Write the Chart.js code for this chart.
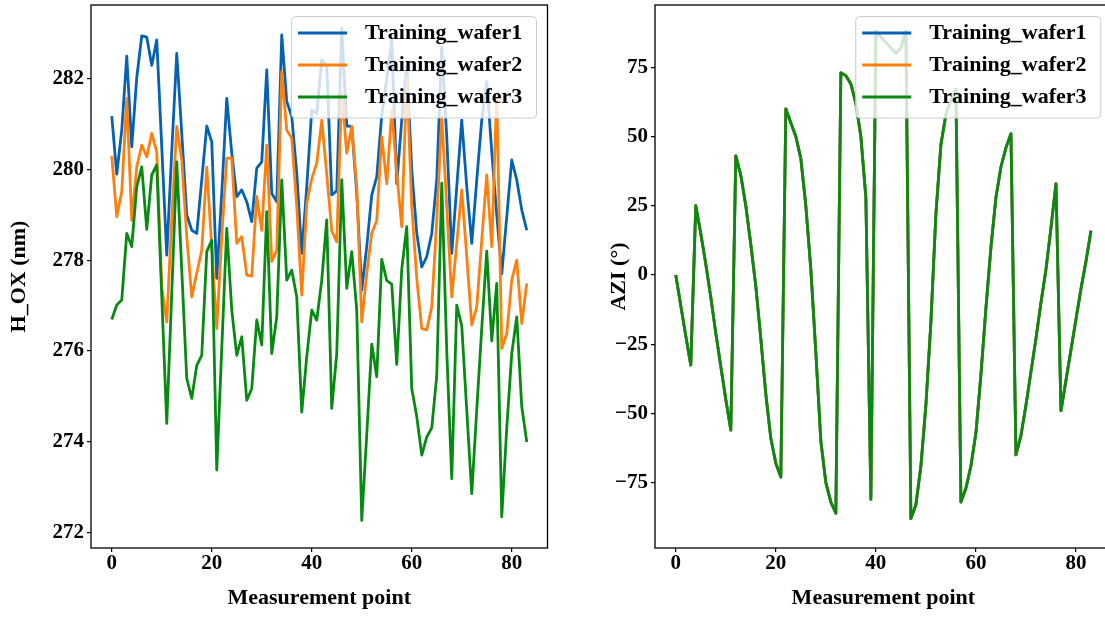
<!DOCTYPE html>
<html>
<head>
<meta charset="utf-8">
<script src="https://cdn.jsdelivr.net/npm/chart.js@4.4.1/dist/chart.umd.min.js"></script>
<style>
  html, body { margin: 0; padding: 0; background: #fff; overflow: hidden; }
  body { width: 1105px; height: 617px; position: relative; }
  canvas { position: absolute; top: 0; }
  #hox { left: 0; }
  #azi { left: 600px; }
</style>
</head>
<body>
<canvas id="hox" width="552" height="617"></canvas>
<canvas id="azi" width="520" height="617"></canvas>
<script>
/* Datos */
const wafer1 = [
  281.18, 279.90, 280.87, 282.50, 280.50, 282.03, 282.95, 282.92, 282.30, 282.86,
  280.50, 278.11, 280.40, 282.56, 280.80, 279.00, 278.66, 278.59, 279.77, 280.96,
  280.61, 277.60, 279.47, 281.57, 280.36, 279.40, 279.55, 279.29, 278.85, 280.03,
  280.17, 282.20, 279.47, 279.29, 282.97, 281.50, 281.17, 279.92, 278.15, 279.62,
  281.31, 281.24, 282.42, 282.29, 279.44, 279.53, 283.12, 280.96, 280.95, 279.47,
  277.34, 278.30, 279.44, 279.84, 281.20, 282.00, 282.86, 279.69, 281.09, 282.30,
  280.00, 278.60, 277.85, 278.08, 278.59, 279.77, 282.71, 280.72, 278.15, 279.62,
  281.09, 279.62, 278.37, 279.77, 281.09, 281.94, 280.39, 279.00, 277.70, 278.96,
  280.21, 279.77, 279.11, 278.66
];
const wafer2 = [
  280.30, 278.96, 279.51, 281.57, 278.88, 280.06, 280.54, 280.28, 280.80, 280.39,
  277.41, 276.64, 278.90, 280.95, 280.21, 278.52, 277.19, 277.71, 278.22, 280.05,
  278.30, 276.49, 278.52, 280.25, 280.25, 278.37, 278.52, 277.67, 277.65, 279.41,
  278.66, 280.54, 277.97, 278.22, 282.16, 280.87, 280.69, 279.18, 277.23, 279.25,
  279.80, 280.14, 281.09, 279.90, 278.65, 278.40, 281.72, 280.36, 280.95, 279.62,
  276.64, 277.71, 278.59, 278.88, 280.72, 279.69, 281.31, 279.92, 278.74, 282.05,
  279.18, 277.60, 276.49, 276.46, 276.97, 278.88, 281.17, 279.18, 277.19, 278.37,
  279.55, 278.08, 276.57, 276.97, 278.44, 279.88, 278.30, 281.70, 276.05, 276.38,
  277.56, 278.00, 276.60, 277.49
];
const wafer3 = [
  276.69, 277.01, 277.12, 278.59, 278.30, 279.62, 280.06, 278.68, 279.88, 280.10,
  277.20, 274.40, 277.27, 280.17, 277.78, 275.39, 274.95, 275.68, 275.90, 278.19,
  278.44, 273.37, 276.05, 278.70, 276.90, 275.90, 276.31, 274.91, 275.17, 276.68,
  276.13, 279.07, 275.94, 276.75, 279.77, 277.56, 277.78, 277.19, 274.65, 275.87,
  276.90, 276.68, 277.56, 278.89, 274.73, 275.94, 279.77, 277.38, 278.19, 276.90,
  272.26, 274.15, 276.15, 275.43, 278.02, 277.55, 277.47, 275.70, 277.80, 278.74,
  275.17, 274.55, 273.70, 274.10, 274.30, 275.45, 279.70, 276.00, 273.18, 277.01,
  276.55, 274.69, 272.85, 274.70, 276.50, 278.20, 276.22, 277.49, 272.34, 274.30,
  275.94, 276.75, 274.77, 273.99
];
/* AZI igual en las tres obleas */
const azi = [
  0, -11, -22, -32.5, 25, 15, 4, -8, -21, -33,
  -45, -56, 43, 36, 25, 11, -4, -23, -43, -59,
  -68, -73, 60, 55, 50, 42, 25, 2, -28, -60,
  -75, -82, -86, 73, 72, 69, 62, 50, 28, -81,
  88, 86, 84, 82, 80, 82, 88, -88, -83, -69,
  -47, -17, 22, 47, 58, 63, 67, -82, -77, -69,
  -57, -36, -12, 10, 28, 39, 46, 51, -65, -58,
  -47, -35, -23, -10, 2, 17, 33, -49, -38, -27,
  -16, -5, 5, 16
];
const labels = ['Training_wafer1', 'Training_wafer2', 'Training_wafer3'];
const colors = ['#0561b4', '#ff7f0e', '#078a12'];
const xTicks = [0, 20, 40, 60, 80];
const hoxTicks = [272, 274, 276, 278, 280, 282];
const aziTicks = [-75, -50, -25, 0, 25, 50, 75];

/* Estilos */
const serif = '"Liberation Serif", "Times New Roman", serif';
const tickFont = { family: serif, size: 21, weight: 'bold' };
const labelFont = { family: serif, size: 22, weight: 'bold' };

const toPoints = values => values.map((v, i) => ({ x: i, y: v }));

/* order: la ultima serie queda encima, como en matplotlib */
const makeSets = series => series.map((s, k) => ({
    label: labels[k],
    data: toPoints(s),
    borderColor: colors[k],
    backgroundColor: colors[k],
    borderWidth: 2.8,
    pointRadius: 0,
    tension: 0,
    borderJoinStyle: 'round',
    fill: false,
    order: series.length - k
}));

/* Marco negro alrededor del area */
const framePlugin = {
    id: 'frame',
    afterDatasetsDraw(chart) {
        const { ctx, chartArea: a } = chart;
        ctx.save();
        ctx.strokeStyle = '#000';
        ctx.lineWidth = 1.3;
        ctx.strokeRect(a.left, a.top, a.right - a.left, a.bottom - a.top);
        ctx.restore();
    }
};

/* Leyenda con caja semitransparente, arriba a la derecha */
const legendPlugin = {
    id: 'boxLegend',
    afterDatasetsDraw(chart) {
        const { ctx, chartArea: a } = chart;
        const w = 245, h = 101.5;
        const x0 = a.right - 11 - w, y0 = a.top + 11.5;
        ctx.save();
        ctx.beginPath();
        ctx.roundRect(x0, y0, w, h, 4);
        ctx.fillStyle = 'rgba(255,255,255,0.8)';
        ctx.fill();
        ctx.strokeStyle = '#cccccc';
        ctx.lineWidth = 1;
        ctx.stroke();
        ctx.font = 'bold 22px ' + serif;
        ctx.textBaseline = 'middle';
        chart.data.datasets.forEach((ds, k) => {
            const y = y0 + 16.5 + k * 32;
            ctx.strokeStyle = ds.borderColor;
            ctx.lineWidth = ds.borderWidth;
            ctx.beginPath();
            ctx.moveTo(x0 + 6.5, y);
            ctx.lineTo(x0 + 55.5, y);
            ctx.stroke();
            ctx.fillStyle = '#000';
            ctx.fillText(ds.label, x0 + 73.5, y);
        });
        ctx.restore();
    }
};

const tickGrid = { display: true, drawOnChartArea: false, drawTicks: true, tickLength: 4, color: '#000', lineWidth: 1.2 };

const makeConfig = (series, yTicks, yMin, yMax, yTitle, yWidth, padRight) => ({
    type: 'line',
    data: { datasets: makeSets(series) },
    options: {
        responsive: false,
        animation: false,
        layout: { padding: { top: 5, right: padRight, left: 0, bottom: 0 } },
        plugins: { legend: { display: false }, tooltip: { enabled: false } },
        scales: {
            x: {
                type: 'linear',
                min: -4.15,
                max: 87.15,
                afterBuildTicks: s => { s.ticks = xTicks.map(v => ({ value: v })); },
                afterFit: s => { s.height = 69; s.paddingLeft = 0; s.paddingRight = 0; },
                grid: tickGrid,
                border: { display: false },
                ticks: { color: '#000', font: tickFont, padding: -1, autoSkip: false, maxRotation: 0 },
                title: { display: true, text: 'Measurement point', color: '#000', font: labelFont, padding: { top: 5, bottom: 5 } }
            },
            y: {
                type: 'linear',
                min: yMin,
                max: yMax,
                afterBuildTicks: s => { s.ticks = yTicks.map(v => ({ value: v })); },
                afterFit: s => { s.width = yWidth; s.paddingTop = 0; s.paddingBottom = 0; },
                grid: tickGrid,
                border: { display: false },
                ticks: {
                    color: '#000', font: tickFont, padding: 3, autoSkip: false,
                    callback: v => String(v).replace('-', '\u2212')
                },
                title: { display: true, text: yTitle, color: '#000', font: labelFont, padding: { top: 6, bottom: 6 } }
            }
        }
    },
    plugins: [framePlugin, legendPlugin]
});

const hoxChart = new Chart(document.getElementById('hox'),
    makeConfig([wafer1, wafer2, wafer3], hoxTicks, 271.65, 283.63, 'H_OX (nm)', 91, 4.5));
const aziChart = new Chart(document.getElementById('azi'),
    makeConfig([azi, azi, azi], aziTicks, -98.6, 97.5, 'AZI (\u00b0)', 55, 8.25));
</script>
</body>
</html>
